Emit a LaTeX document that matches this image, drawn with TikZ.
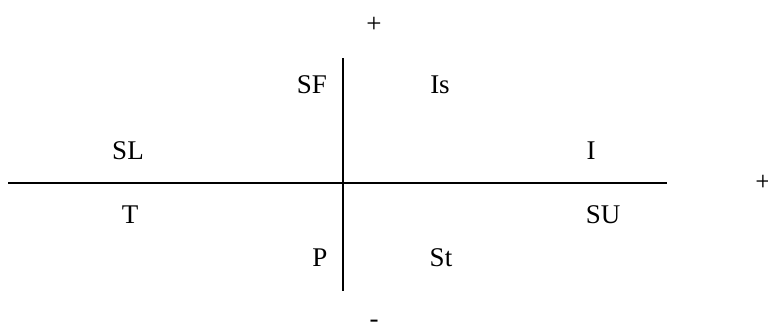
\documentclass[tikz,border=0pt]{standalone}
\usepackage{fontspec}
\setmainfont{Liberation Serif}
\begin{document}
\begin{tikzpicture}[x=1pt, y=-1pt,
        lbl/.style={font=\fontsize{27}{32}\selectfont, inner sep=0pt},
        axis/.style={line width=2pt},
    ]
    \useasboundingbox (0,0) rectangle (768,324);
    % axes
    \coordinate (west) at (8,183);
    \coordinate (east) at (667,183);
    \coordinate (north) at (343,58);
    \coordinate (south) at (343,291);
    \draw[axis] (west) -- (east);
    \draw[axis] (north) -- (south);

    % signs
    \node[lbl] (plustop) at (374,25) {+};
    \node[lbl] (plusright) at (763,183) {+};
    \node[lbl] (minus) at (374,324) {-};

    % quadrant labels
    \node[lbl] (sf) at (312,85) {SF};
    \node[lbl] (is) at (440,85) {Is};
    \node[lbl] (sl) at (128,151) {SL};
    \node[lbl] (i) at (591,151) {I};
    \node[lbl] (t) at (130,215) {T};
    \node[lbl] (su) at (603,215) {SU};
    \node[lbl] (p) at (320,258) {P};
    \node[lbl] (st) at (441,258) {St};
\end{tikzpicture}
\end{document}
